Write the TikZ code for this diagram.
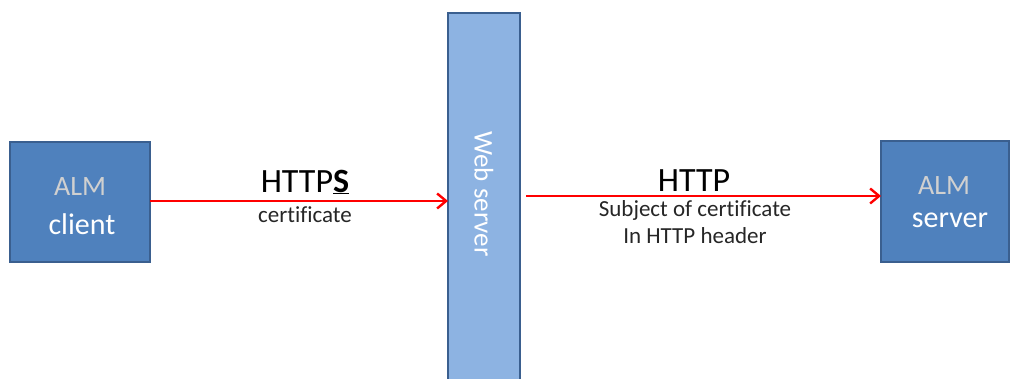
\documentclass[tikz,border=0pt]{standalone}
\usepackage{fontspec}
\setmainfont[Ligatures=NoCommon]{Carlito}
\usetikzlibrary{arrows.meta}
\definecolor{boxblue}{HTML}{4F81BD}
\definecolor{lightblue}{HTML}{8DB3E2}
\definecolor{edgeblue}{HTML}{3A5F8F}
\definecolor{almgray}{HTML}{D0D0D0}
\tikzset{
  box/.style={draw=edgeblue, line width=2pt, fill=boxblue, inner sep=0pt},
  webbox/.style={draw=edgeblue, line width=2pt, fill=lightblue, inner sep=0pt},
  conn/.style={draw=red, line width=2.4pt, -{Straight Barb[length=9pt,width=15pt,line width=2.4pt]}},
  lbl/.style={font=\fontsize{34}{36}\selectfont, text=black, inner sep=0pt},
  small/.style={font=\fontsize{23}{25}\selectfont, text=black!85, inner sep=0pt, align=center}
}
\begin{document}
\begin{tikzpicture}[x=1pt,y=1pt]
\useasboundingbox (0,0) rectangle (1010,379);
% ALM client
\node[box, minimum width=140pt, minimum height=120pt] (client) at (80,177) {};
\node[font=\fontsize{28}{30}\selectfont, text=almgray, inner sep=0pt] (clientA) at (80,192) {ALM};
\node[font=\fontsize{30}{32}\selectfont, text=white, inner sep=0pt] (clientB) at (82,155) {client};
% ALM server
\node[box, minimum width=128pt, minimum height=121pt] (server) at (945,177.5) {};
\node[font=\fontsize{28}{30}\selectfont, text=almgray, inner sep=0pt] (serverA) at (944,193) {ALM};
\node[font=\fontsize{30}{32}\selectfont, text=white, inner sep=0pt] (serverB) at (950,159) {server};
% Web server
\node[webbox, minimum width=72pt, minimum height=380pt, anchor=north] (web) at (484,367) {};
\node[font=\fontsize{27}{29}\selectfont, text=white, rotate=-90, inner sep=0pt] (webt) at (484,185) {Web server};
% connectors
\coordinate (c1) at (150,178);
\coordinate (w1) at (448,178);
\coordinate (w2) at (526,183);
\coordinate (s2) at (881,183);
\draw[conn] (c1) -- (w1);
\draw[conn] (w2) -- (s2);
% labels
\node[lbl] (https) at (305,197) {HTTP\underline{\textbf{S}}};
\node[small] (cert) at (305,164) {certificate};
\node[lbl] (http) at (694,198) {HTTP};
\node[small] (subj) at (695,169) {Subject of certificate};
\node[small] (hdr) at (695,143) {In HTTP header};
\end{tikzpicture}
\end{document}
